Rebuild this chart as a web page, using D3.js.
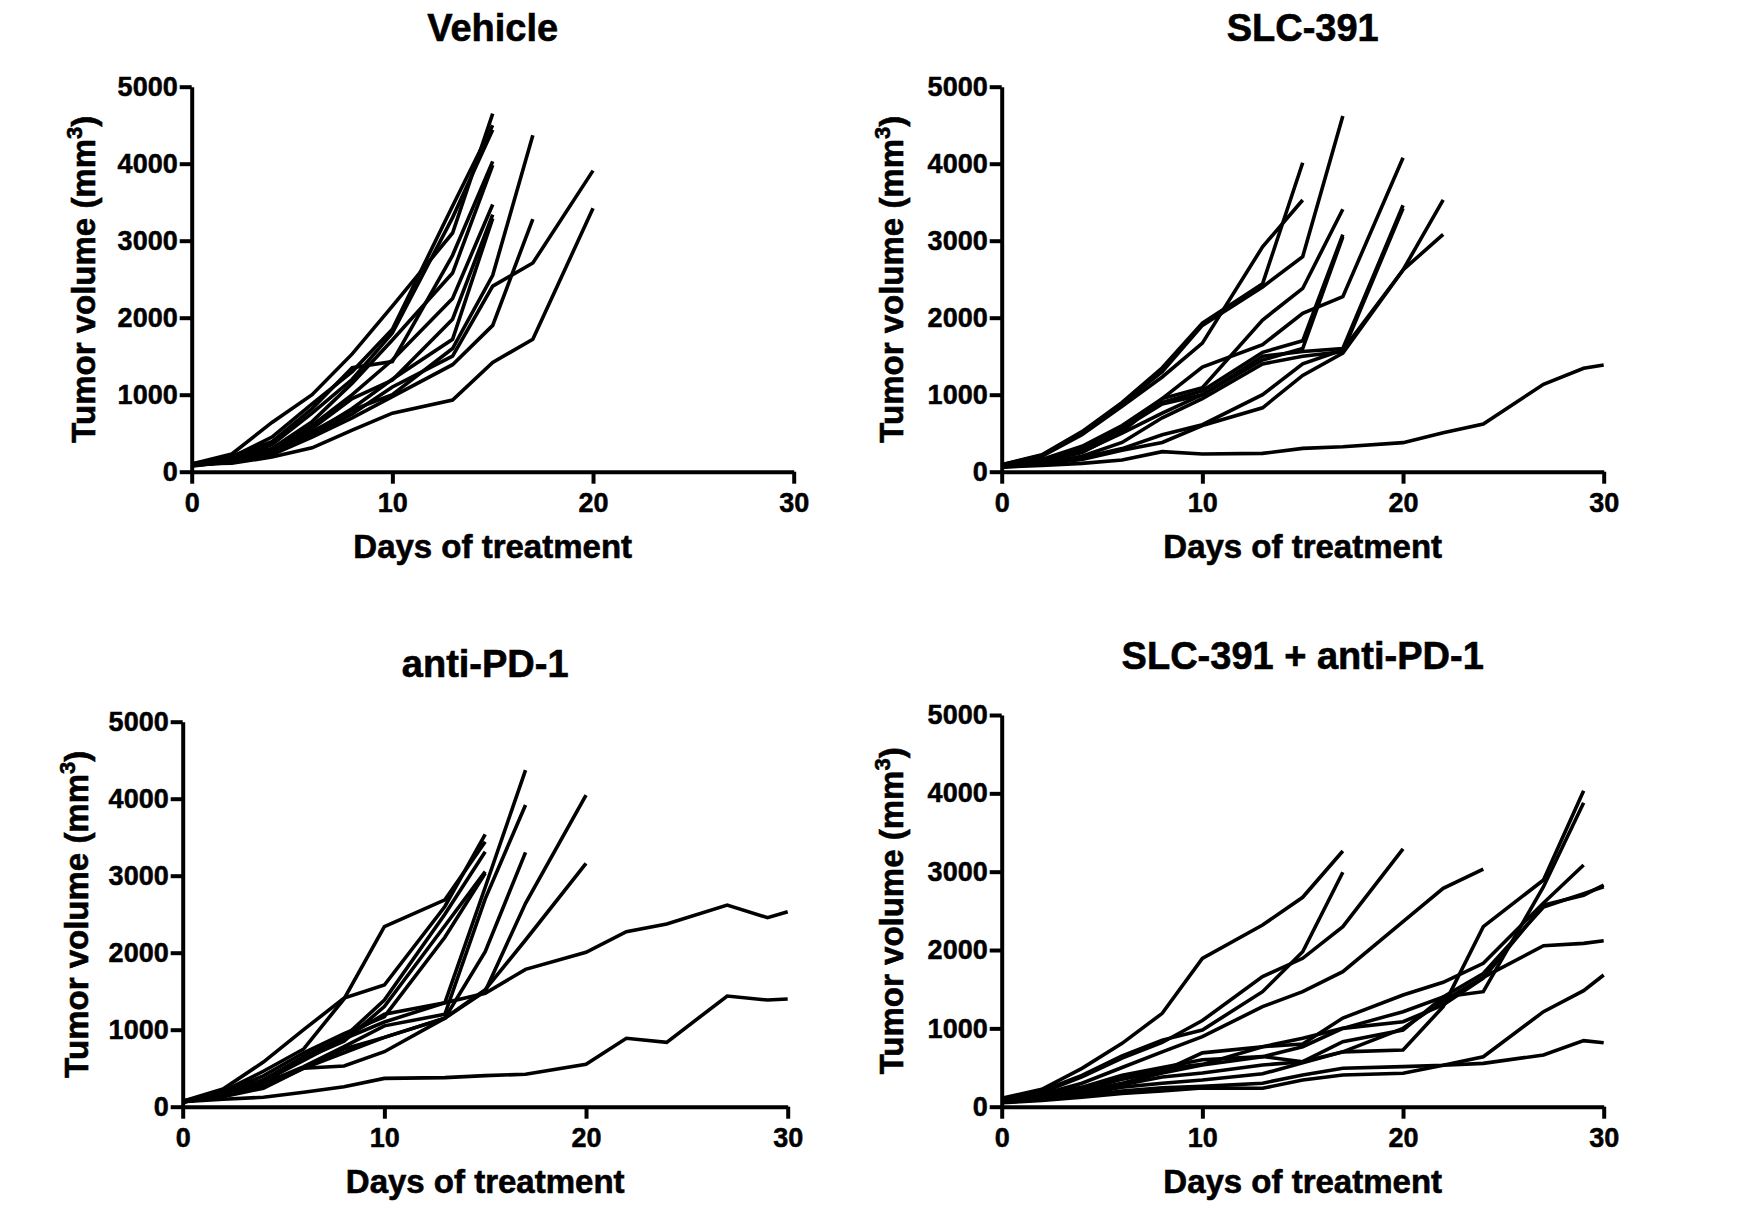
<!DOCTYPE html>
<html>
<head>
<meta charset="utf-8">
<script src="https://cdnjs.cloudflare.com/ajax/libs/d3/7.8.5/d3.min.js"></script>
<style>
  body { margin: 0; background: #fff; }
  text { font-family: "Liberation Sans", Arial, sans-serif; font-weight: bold; fill: #000; stroke: #000; stroke-width: 0.6px; }
</style>
</head>
<body>
<div id="chart"></div>
<script>
// measurement days (each series is read against this list, from day 0 on)
const days = [0, 2, 4, 6, 8, 10, 13, 15, 17, 20, 22, 24, 27, 29, 30];
const xTicks = [0, 10, 20, 30];
const yTicks = [0, 1000, 2000, 3000, 4000, 5000];

// tumor volumes (mm3), one array per mouse
const vehicle = [
  [100, 230, 640, 1000, 1530, 2150, 3100, 4650],
  [90, 190, 450, 880, 1300, 1850, 3450, 4500],
  [80, 160, 350, 760, 1200, 1800, 3300, 4440],
  [100, 200, 390, 820, 1350, 1430, 2810, 4030],
  [90, 170, 300, 650, 1150, 1710, 2580, 3980],
  [80, 150, 280, 600, 1000, 1450, 2250, 3470],
  [70, 140, 260, 560, 950, 1190, 1980, 3340],
  [80, 130, 230, 500, 820, 1200, 1720, 3290],
  [90, 150, 280, 520, 800, 1000, 1600, 2550, 4370],
  [80, 120, 220, 450, 700, 974, 1390, 1900, 3280],
  [100, 150, 250, 480, 750, 1100, 1500, 2410, 2710, 3910],
  [100, 110, 190, 310, 540, 760, 930, 1420, 1720, 3420]
];

const slc391 = [
  [90, 220, 520, 900, 1350, 1930, 2440, 4013],
  [80, 200, 480, 850, 1230, 1670, 2920, 3529],
  [90, 210, 500, 880, 1300, 1900, 2400, 2793, 4619],
  [80, 160, 330, 600, 950, 1090, 1970, 2380, 3408],
  [70, 150, 300, 580, 900, 1050, 1550, 1700, 3080],
  [80, 140, 280, 560, 880, 1000, 1450, 1600, 3050],
  [70, 130, 250, 520, 950, 1360, 1650, 2057, 2273, 4078],
  [70, 130, 260, 500, 760, 1000, 1500, 1560, 1600, 3460],
  [60, 110, 200, 380, 700, 950, 1400, 1500, 1560, 3420],
  [70, 110, 180, 300, 480, 610, 1000, 1400, 1580, 2620, 3529],
  [60, 100, 160, 280, 380, 600, 830, 1250, 1540, 2620, 3083],
  [60, 80, 108, 152, 260, 230, 238, 303, 325, 377, 507, 620, 1135, 1343, 1386]
];

const antiPD1 = [
  [70, 230, 580, 1000, 1410, 1580, 2600, 3537],
  [60, 200, 460, 750, 1400, 2338, 2686, 3442],
  [70, 180, 350, 650, 900, 1386, 2500, 3312],
  [60, 170, 340, 620, 850, 1300, 2350, 3052],
  [70, 190, 400, 700, 950, 1169, 2200, 3031],
  [70, 170, 330, 600, 880, 1100, 1350, 2850, 4372],
  [60, 150, 300, 520, 780, 1050, 1200, 2700, 3918],
  [60, 150, 280, 500, 750, 900, 1150, 2013, 3303],
  [60, 140, 260, 500, 700, 900, 1150, 1500, 2641, 4048],
  [60, 130, 240, 500, 529, 714, 1150, 1520, 2165, 3160],
  [60, 150, 300, 650, 900, 1200, 1350, 1472, 1784, 2005, 2273, 2372, 2619, 2455, 2532],
  [65, 96, 122, 187, 260, 368, 377, 403, 421, 550, 888, 836, 1437, 1385, 1398]
];

const combo = [
  [107, 222, 490, 809, 1192, 1894, 2319, 2673, 3264],
  [90, 200, 400, 650, 850, 979, 1468, 1978, 2992],
  [90, 180, 380, 620, 820, 1100, 1660, 1894, 2298, 3290],
  [80, 160, 300, 500, 700, 894, 1277, 1468, 1723, 2362, 2788, 3034],
  [80, 150, 250, 400, 500, 600, 640, 574, 700, 724, 1277, 2298, 2894, 4034],
  [80, 140, 230, 380, 480, 540, 766, 873, 1000, 1213, 1400, 1468, 2808, 3881],
  [70, 130, 220, 350, 450, 687, 766, 800, 1132, 1426, 1588, 1830, 2600, 3085],
  [70, 120, 200, 300, 430, 532, 638, 766, 1000, 1085, 1300, 1640, 2574, 2700, 2830],
  [60, 110, 180, 280, 380, 430, 532, 574, 830, 979, 1400, 1700, 2550, 2720, 2808],
  [60, 100, 160, 250, 300, 340, 420, 560, 700, 1000, 1350, 1650, 2055, 2085, 2119],
  [60, 90, 140, 200, 240, 260, 300, 405, 490, 511, 530, 638, 1213, 1481, 1681],
  [50, 80, 120, 170, 200, 238, 235, 341, 405, 426, 530, 553, 660, 843, 817]
];

const titles = ["Vehicle", "SLC-391", "anti-PD-1", "SLC-391 + anti-PD-1"];
const groups = [vehicle, slc391, antiPD1, combo];

// panel layout (pixels)
const layout = [
  { left: 191.7, top: 86.7, w: 602, h: 385, titleY: 41, labelX: 95 },
  { left: 1001.7, top: 86.7, w: 602, h: 385, titleY: 41, labelX: 903 },
  { left: 182.7, top: 721.7, w: 605, h: 385, titleY: 677, labelX: 88 },
  { left: 1001.7, top: 715, w: 602, h: 391.7, titleY: 669, labelX: 903 }
];

const svg = d3.select("#chart").append("svg")
  .attr("width", 1757)
  .attr("height", 1210);

layout.forEach(function (p, k) {
  const x = d3.scaleLinear().domain([0, 30]).range([p.left, p.left + p.w]);
  const y = d3.scaleLinear().domain([0, 5000]).range([p.top + p.h, p.top]);

  const g = svg.append("g");

  // title
  g.append("text")
    .attr("x", p.left + p.w / 2)
    .attr("y", p.titleY)
    .attr("text-anchor", "middle")
    .style("font-size", "38px")
    .text(titles[k]);

  // lines
  const line = d3.line()
    .x((v, i) => x(days[i]))
    .y(v => y(v));

  g.selectAll(".series")
    .data(groups[k])
    .enter()
    .append("path")
    .attr("d", line)
    .attr("fill", "none")
    .attr("stroke", "#000")
    .attr("stroke-width", 3.6)
    .attr("stroke-linejoin", "miter");

  // axes
  const xAxis = g.append("g")
    .attr("transform", `translate(0,${p.top + p.h})`)
    .call(d3.axisBottom(x).tickValues(xTicks).tickSize(12).tickSizeOuter(0).tickPadding(9).tickFormat(d3.format("d")));
  const yAxis = g.append("g")
    .attr("transform", `translate(${p.left},0)`)
    .call(d3.axisLeft(y).tickValues(yTicks).tickSize(12).tickSizeOuter(0).tickPadding(2).tickFormat(d3.format("d")));

  [xAxis, yAxis].forEach(function (a) {
    a.select(".domain").attr("stroke", "#000").attr("stroke-width", 4);
    a.selectAll(".tick line").attr("stroke", "#000").attr("stroke-width", 4);
    a.selectAll(".tick text")
      .style("font-size", "27px")
      .style("font-family", '"Liberation Sans", Arial, sans-serif')
      .style("font-weight", "bold")
      .style("stroke", "#000")
      .style("stroke-width", "0.5px")
      .attr("fill", "#000");
  });

  // axis labels
  g.append("text")
    .attr("x", p.left + p.w / 2)
    .attr("y", p.top + p.h + 86)
    .attr("text-anchor", "middle")
    .style("font-size", "33px")
    .text("Days of treatment");

  const yl = g.append("text")
    .attr("transform", `translate(${p.labelX},${p.top + p.h / 2}) rotate(-90)`)
    .attr("text-anchor", "middle")
    .style("font-size", "33px");
  yl.append("tspan").text("Tumor volume (mm");
  yl.append("tspan").attr("dy", -13).style("font-size", "22px").text("3");
  yl.append("tspan").attr("dy", 13).text(")");
});
</script>
</body>
</html>
